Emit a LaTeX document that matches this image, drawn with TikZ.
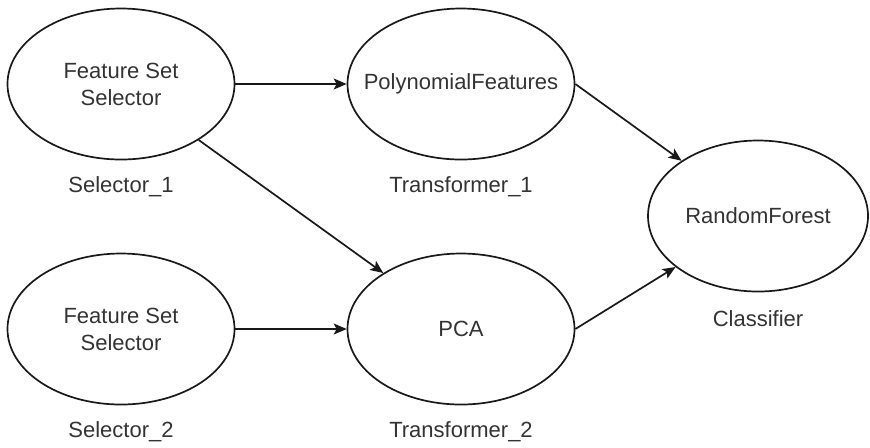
\documentclass[tikz,border=0pt]{standalone}
\usepackage{fontspec}
\setmainfont{Liberation Sans}
\usetikzlibrary{shapes.geometric, positioning, arrows.meta}

\begin{document}
\begin{tikzpicture}
	[on grid, node distance=122.5pt and 170pt,
	 font=\fontsize{11}{13.5}\selectfont, text=black!80,
	 stage/.style={ellipse, draw=black!90, line width=0.85pt, inner sep=0pt,
	   minimum width=113.5pt, minimum height=75.5pt, align=center},
	 flow/.style={-{Stealth[length=6.5pt, width=5.5pt, inset=1.5pt]}, color=black!90, line width=0.85pt}]
   \useasboundingbox (0,0) rectangle (435pt,-223.5pt);
   % pipeline stages
   \node[stage] (sel_1) at (60.5pt,-42pt) {Feature Set\\Selector};
   \node[stage, inner xsep=-9pt] (trf_1) [right=of sel_1] {PolynomialFeatures};
   \node[stage] (sel_2) [below=of sel_1] {Feature Set\\Selector};
   \node[stage] (trf_2) [right=of sel_2] {PCA};
   \node[stage, minimum width=110pt] (clf) [below right=66pt and 148.5pt of trf_1] {RandomForest};
   % names under the stages
   \node (sel_1_name) [below=51.5pt of sel_1] {Selector\_1};
   \node (sel_2_name) [below=51.5pt of sel_2] {Selector\_2};
   \node (trf_1_name) [below=51.5pt of trf_1] {Transformer\_1};
   \node (trf_2_name) [below=51.5pt of trf_2] {Transformer\_2};
   \node (clf_name)   [below=51.5pt of clf]   {Classifier};
       \path[flow]
    (sel_1)
          edge (trf_1)
          edge (trf_2)
    (sel_2) edge (trf_2)
    (trf_1.east) edge (clf)
    (trf_2.east) edge (clf);
\end{tikzpicture}
\end{document}
